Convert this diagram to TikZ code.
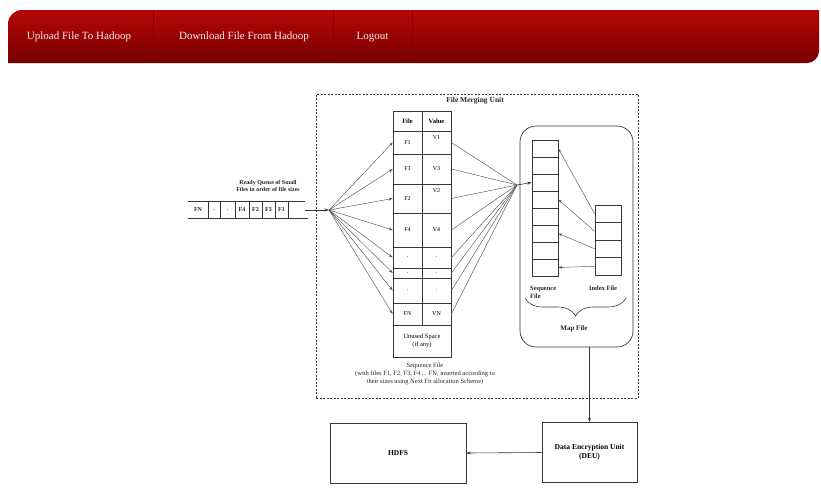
\documentclass[tikz,border=0pt]{standalone}
\usepackage{fontspec}
\setmainfont{Liberation Serif}
\usetikzlibrary{arrows.meta,decorations.pathreplacing,calc,positioning}
\definecolor{barTop}{RGB}{180,6,6}
\definecolor{barBot}{RGB}{120,0,0}
\definecolor{barLine}{RGB}{135,0,0}
\definecolor{inkGray}{RGB}{55,55,55}
\begin{document}
\begin{tikzpicture}[x=1pt, y=-1pt,
  ink/.style={draw=inkGray, line width=0.7pt},
  menu/.style={text=white!92!red, font=\fontsize{11}{13}\selectfont, inner sep=0pt},
  cell/.style={ink, minimum width=29pt, minimum height=#1pt, inner sep=0pt,
               font=\fontsize{6}{7}\selectfont},
  mcell/.style={ink, minimum width=26pt, minimum height=#1pt, inner sep=0pt},
  unitbox/.style={ink, minimum width=#1, minimum height=60pt, align=center,
                  font=\bfseries\fontsize{7.5}{9}\selectfont},
  lbl/.style={inner sep=0pt, align=center, text=black!85},
  arr/.style={-{Stealth[length=4.5pt,width=3pt]}, draw=inkGray, line width=0.6pt},
  fan/.style={draw=inkGray!85, line width=0.45pt},
  fanarr/.style={fan, -{Stealth[length=4pt,width=2.8pt]}}
]
\fill[white] (0,0) rectangle (821,496);
\useasboundingbox (0,0) rectangle (821,496);

% menu bar
\begin{scope}
  \clip[rounded corners=14pt] (8,10) rectangle (900,120);
  \clip[rounded corners=12pt] (-50,-50) rectangle (819,63);
  \shade[top color=barTop, bottom color=barBot] (8,10) rectangle (819,63);
\end{scope}
\foreach \x in {153,333,412}
  \draw[barLine, line width=0.5pt] (\x,10) -- (\x,63);
\node[menu] (upload) at (79,37) {Upload File To Hadoop};
\node[menu] (download) at (244,37) {Download File From Hadoop};
\node[menu] (logout) at (372.5,37) {Logout};

% file merging unit
\node[draw=inkGray, dash pattern=on 2pt off 1.5pt, line width=0.6pt,
      minimum width=322pt, minimum height=304pt, inner sep=0pt] (fmu) at (477,246) {};
\node[lbl, font=\bfseries\fontsize{7.5}{9}\selectfont] (fmutitle) at (475,101) {File Merging Unit};

% ready queue
\node[lbl, font=\bfseries\fontsize{6}{6.5}\selectfont] (qlabel) at (268,186)
  {Ready Queue of Small\\Files in order of file sizes};
\foreach \n/\x/\t in {n/198/FN, a/214/., b/227.5/., 4/242/F4, 2/255.5/F2, 3/268.5/F3, 1/281.5/F1}
  \node[lbl, font=\bfseries\fontsize{6}{7}\selectfont] (q\n) at (\x,210) {\t};
\draw[ink] (188,201.5) -- (305,201.5) (188,218) -- (308,218);
\foreach \x in {208,220,235,249,262,275,288}
  \draw[ink] (\x,201.5) -- (\x,218);
\coordinate (qout) at (305,210);
\coordinate (lfan) at (329,210);
\draw[arr] (qout) -- (lfan);

% sequence file
\node[cell=20, font=\bfseries\fontsize{6.5}{7}\selectfont] (hfile) at (407.5,121) {File};
\node[cell=20, font=\bfseries\fontsize{6.5}{7}\selectfont] (hval) at (436.5,121) {Value};
\foreach \i/\c/\h/\f in {1/142.5/23/F1, 3/169/30/F3, 2/198.5/29/F2, 4/230/34/F4,
                         a/257.5/21/., b/273/10/., c/290.5/25/., n/314/22/FN}
  \node[cell=\h] (file\i) at (407.5,\c) {\f};
\foreach \i/\c/\h/\v/\d in {1/142.5/23/V1/10pt, 3/169/30/V3/0pt, 2/198.5/29/V2/16pt, 4/230/34/V4/0pt,
                            a/257.5/21/./0pt, b/273/10/./0pt, c/290.5/25/./0pt, n/314/22/VN/0pt}
  \node[cell=\h, text depth=\d] (val\i) at (436.5,\c) {\v};
\node[cell=32, minimum width=58pt, align=center, font=\fontsize{6.5}{8}\selectfont]
  (unused) at (422,341) {Unused Space\\(if any)};
\node[lbl, font=\fontsize{6.5}{8}\selectfont, below=5pt of unused, xshift=3pt] (seqcap)
  {Sequence File\\(with files F1, F2, F3, F4\,... FN, inserted according to\\their sizes using Next Fit allocation Scheme)};

\foreach \i in {1,3,2,4,a,b,c,n}
  \draw[fanarr] (lfan) -- (file\i.west);
\coordinate (rfan) at (517,185);
\foreach \i in {1,3,2,4,a,b,c,n}
  \draw[fan] (val\i.east) -- (rfan);

% map file
\node[ink, rounded corners=16pt, minimum width=113pt, minimum height=221pt] (mapbox) at (576.5,236.5) {};
\foreach \i in {1,...,8}
  \node[mcell=17] (s\i) at (545,{131.5+17*\i}) {};
\foreach \i in {1,...,4}
  \node[mcell=17.5] (x\i) at (608,{196.25+17.5*\i}) {};
\draw[arr] (rfan) -- (s3.west);
\foreach \a/\b in {1/1,2/4,3/6,4/8}
  \draw[fanarr] (x\a.west) -- (s\b.east);
\node[lbl, align=left, anchor=north west, font=\bfseries\fontsize{6.5}{7.5}\selectfont] (seqlbl) at (530,286) {Sequence\\File};
\node[lbl, anchor=north, font=\bfseries\fontsize{6.5}{7.5}\selectfont] (idxlbl) at (603,286) {Index File};
\draw[inkGray, line width=0.6pt, decorate, decoration={brace, mirror, amplitude=18pt}]
  (525,298) -- (626,298);
\node[lbl, font=\bfseries\fontsize{7}{8}\selectfont] (maplbl) at (574,329) {Map File};

% output units
\node[unitbox=95pt] (deu) at (589.5,452.5) {Data Encryption Unit\\(DEU)};
\node[unitbox=136pt] (hdfs) at (398,453) {HDFS};
\draw[arr] (mapbox.south -| deu.north) -- (deu.north);
\draw[arr] (deu.west) -- (hdfs.east);
\end{tikzpicture}
\end{document}
